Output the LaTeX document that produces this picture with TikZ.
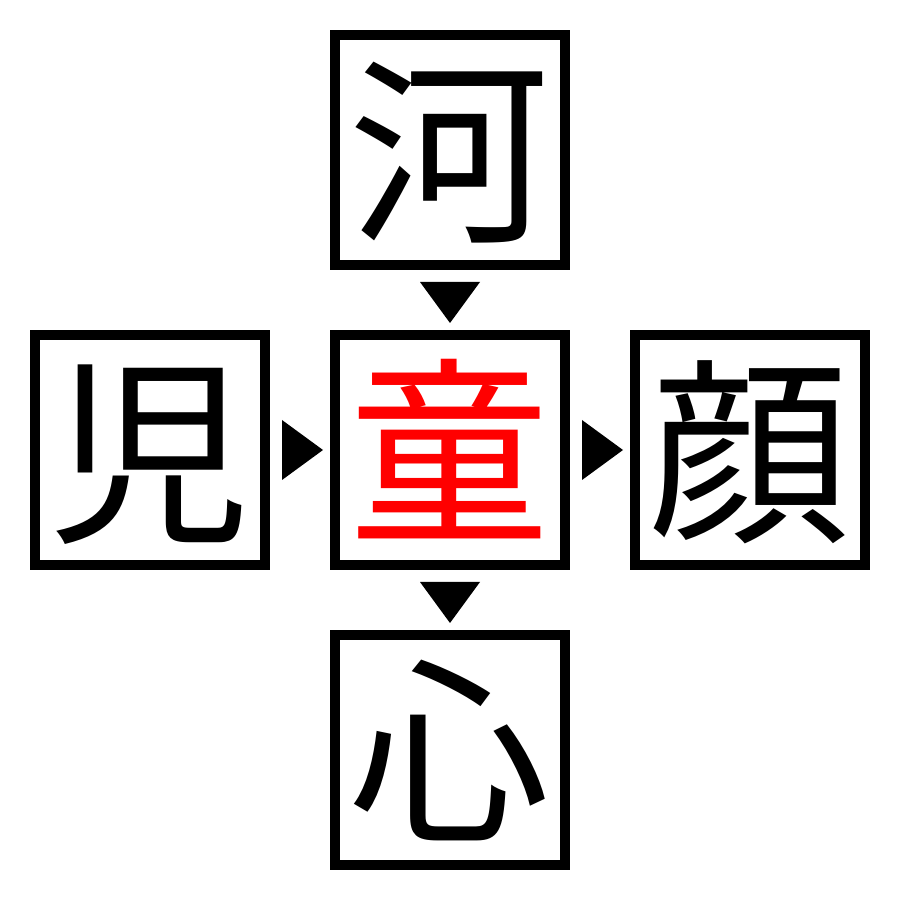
\documentclass[tikz,border=0pt]{standalone}
\usepackage{fontspec}
\newfontfamily\cjk{Noto Sans CJK JP}
\usetikzlibrary{calc}
\tikzset{
  kbox/.style={draw=black, line width=0.1cm, minimum size=2.3cm, inner sep=0pt, outer sep=0pt,
    font=\cjk\fontsize{57}{57}\selectfont, text height=50pt, text depth=6pt},
  trimark/.style={fill=black}
}
\begin{document}
\begin{tikzpicture}
\useasboundingbox (0,0) rectangle (9,9);
\node[kbox] (top) at (4.5,7.5) {河};
\node[kbox, text=red] (mid) at (4.5,4.5) {童};
\node[kbox] (left) at (1.5,4.5) {児};
\node[kbox] (right) at (7.5,4.5) {顔};
\node[kbox] (bot) at (4.5,1.5) {心};
% down arrow marks
\fill[trimark] ($(top.south)+(-0.3,-0.17)$) -- ($(top.south)+(0.3,-0.17)$) -- ($(top.south)+(0,-0.58)$) -- cycle;
\fill[trimark] ($(mid.south)+(-0.3,-0.17)$) -- ($(mid.south)+(0.3,-0.17)$) -- ($(mid.south)+(0,-0.58)$) -- cycle;
% right arrow marks
\fill[trimark] ($(left.east)+(0.17,0.3)$) -- ($(left.east)+(0.17,-0.3)$) -- ($(left.east)+(0.58,0)$) -- cycle;
\fill[trimark] ($(mid.east)+(0.17,0.3)$) -- ($(mid.east)+(0.17,-0.3)$) -- ($(mid.east)+(0.58,0)$) -- cycle;
\end{tikzpicture}
\end{document}
